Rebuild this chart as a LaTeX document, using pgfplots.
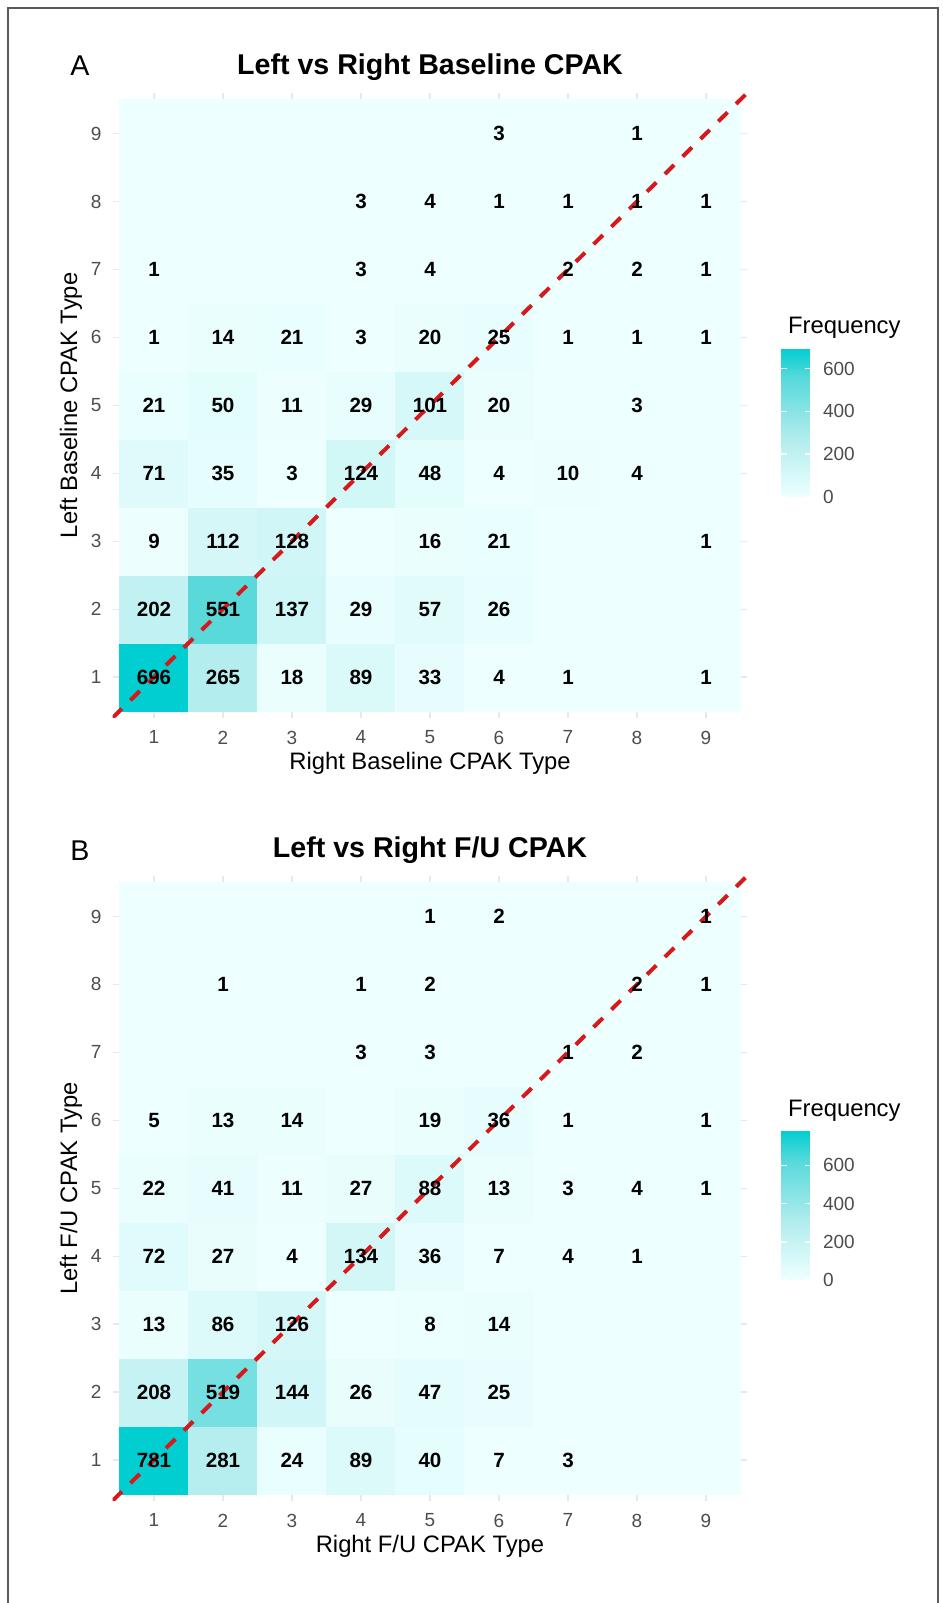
\documentclass[border=0pt]{standalone}
\usepackage{fontspec}
\setmainfont{Liberation Sans}
\usepackage{pgfplots}
\usepackage{pgfplotstable}
\pgfplotsset{compat=1.18}
\definecolor{tickgray}{RGB}{77,77,77}
\definecolor{gridgray}{RGB}{232,232,232}
\definecolor{dashred}{RGB}{215,25,28}
\definecolor{framegray}{RGB}{90,90,90}

\pgfplotstableread{
x y c
1 1 696
2 1 265
3 1 18
4 1 89
5 1 33
6 1 4
7 1 1
8 1 0
9 1 1
1 2 202
2 2 551
3 2 137
4 2 29
5 2 57
6 2 26
7 2 0
8 2 0
9 2 0
1 3 9
2 3 112
3 3 128
4 3 0
5 3 16
6 3 21
7 3 0
8 3 0
9 3 1
1 4 71
2 4 35
3 4 3
4 4 124
5 4 48
6 4 4
7 4 10
8 4 4
9 4 0
1 5 21
2 5 50
3 5 11
4 5 29
5 5 101
6 5 20
7 5 0
8 5 3
9 5 0
1 6 1
2 6 14
3 6 21
4 6 3
5 6 20
6 6 25
7 6 1
8 6 1
9 6 1
1 7 1
2 7 0
3 7 0
4 7 3
5 7 4
6 7 0
7 7 2
8 7 2
9 7 1
1 8 0
2 8 0
3 8 0
4 8 3
5 8 4
6 8 1
7 8 1
8 8 1
9 8 1
1 9 0
2 9 0
3 9 0
4 9 0
5 9 0
6 9 3
7 9 0
8 9 1
9 9 0
}\basedata

\pgfplotstableread{
x y c
1 1 781
2 1 281
3 1 24
4 1 89
5 1 40
6 1 7
7 1 3
8 1 0
9 1 0
1 2 208
2 2 519
3 2 144
4 2 26
5 2 47
6 2 25
7 2 0
8 2 0
9 2 0
1 3 13
2 3 86
3 3 126
4 3 0
5 3 8
6 3 14
7 3 0
8 3 0
9 3 0
1 4 72
2 4 27
3 4 4
4 4 134
5 4 36
6 4 7
7 4 4
8 4 1
9 4 0
1 5 22
2 5 41
3 5 11
4 5 27
5 5 88
6 5 13
7 5 3
8 5 4
9 5 1
1 6 5
2 6 13
3 6 14
4 6 0
5 6 19
6 6 36
7 6 1
8 6 0
9 6 1
1 7 0
2 7 0
3 7 0
4 7 3
5 7 3
6 7 0
7 7 1
8 7 2
9 7 0
1 8 0
2 8 1
3 8 0
4 8 1
5 8 2
6 8 0
7 8 0
8 8 2
9 8 1
1 9 0
2 9 0
3 9 0
4 9 0
5 9 1
6 9 2
7 9 0
8 9 0
9 9 1
}\fudata

\pgfplotsset{
  heatax/.style={
    scale only axis, width=317.4pt, height=312.5pt, anchor=south west,
    xmin=0.4, xmax=9.6, ymin=0.4, ymax=9.6,
    xtick={1,...,9}, ytick={1,...,9},
    axis line style={draw=none}, tick style={draw=none},
    grid=major, major grid style={gridgray, line width=0.6pt},
    ticklabel style={font=\fontsize{9.5}{11}\selectfont, text=tickgray},
    /pgf/number format/assume math mode=true,
    xticklabel style={yshift=-3pt},
    yticklabel style={xshift=-2pt},
    xlabel style={at={(axis description cs:0.5,0)}, anchor=center, yshift=-22.6pt, font=\fontsize{11.9}{14}\selectfont},
    ylabel style={at={(axis description cs:-0.0655,0.5)}, anchor=center, font=\fontsize{11.9}{14}\selectfont},
    title style={at={(axis description cs:0.5,1)}, anchor=center, yshift=7pt, font=\bfseries\fontsize{14.3}{17}\selectfont},
    colormap={tq}{rgb255(0cm)=(238,255,255) rgb255(4cm)=(176,236,237) rgb255(8cm)=(88,217,219) rgb255(10cm)=(0,206,209)},
    colorbar,
    colorbar style={
      scale only axis,
      at={(parent axis.south east)}, anchor=south west, xshift=8.3pt, yshift=110.4pt,
      width=15pt, height=74.5pt,
      ytick={0,200,400,600},
      axis line style={draw=none},
      ytick pos=both,
      yticklabel pos=right,
      ytick style={draw=white, line width=0.8pt},
      major tick length=3pt,
      tick align=inside,
      /pgf/number format/assume math mode=true,
      yticklabel style={font=\fontsize{9.5}{11}\selectfont, text=tickgray, xshift=2.5pt},
      title=Frequency,
      title style={at={(0,1)}, anchor=base west, yshift=1pt, font=\mdseries\fontsize{11.9}{14}\selectfont},
    },
  },
  celllab/.style={only marks, mark=none, point meta=explicit symbolic,
    nodes near coords, nodes near coords align=center,
    every node near coord/.append style={anchor=center, font=\bfseries\fontsize{10.3}{12}\selectfont, text=black}},
  diagline/.style={dashred, line width=2pt, dash pattern=on 6.5pt off 6pt, mark=none, point meta=none},
}

\begin{document}
\begin{tikzpicture}
\path[use as bounding box] (0,0) rectangle (471.5pt,801.5pt);
\draw[framegray, line width=1pt] (4pt,0pt) -- (4pt,797.5pt) -- (469pt,797.5pt) -- (469pt,0pt);

\node[font=\fontsize{14.3}{17}\selectfont] at (40pt,768.5pt) {A};
\node[font=\fontsize{14.3}{17}\selectfont] at (40pt,376pt) {B};

\begin{axis}[heatax, at={(56.3pt,442.6pt)},
  point meta min=0, point meta max=696,
  title={Left vs Right Baseline CPAK},
  xlabel={Right Baseline CPAK Type},
  ylabel={Left Baseline CPAK Type}]
\addplot[matrix plot*, mesh/cols=9, point meta=explicit] table[x=x, y=y, meta=c] {\basedata};
\addplot[celllab] coordinates {
(1,1)[696] (2,1)[265] (3,1)[18] (4,1)[89] (5,1)[33] (6,1)[4] (7,1)[1] (9,1)[1]
(1,2)[202] (2,2)[551] (3,2)[137] (4,2)[29] (5,2)[57] (6,2)[26]
(1,3)[9] (2,3)[112] (3,3)[128] (5,3)[16] (6,3)[21] (9,3)[1]
(1,4)[71] (2,4)[35] (3,4)[3] (4,4)[124] (5,4)[48] (6,4)[4] (7,4)[10] (8,4)[4]
(1,5)[21] (2,5)[50] (3,5)[11] (4,5)[29] (5,5)[101] (6,5)[20] (8,5)[3]
(1,6)[1] (2,6)[14] (3,6)[21] (4,6)[3] (5,6)[20] (6,6)[25] (7,6)[1] (8,6)[1] (9,6)[1]
(1,7)[1] (4,7)[3] (5,7)[4] (7,7)[2] (8,7)[2] (9,7)[1]
(4,8)[3] (5,8)[4] (6,8)[1] (7,8)[1] (8,8)[1] (9,8)[1]
(6,9)[3] (8,9)[1]
};
\addplot[diagline] coordinates {(0.4,0.4) (9.6,9.6)};
\end{axis}

\begin{axis}[heatax, at={(56.3pt,51.15pt)},
  point meta min=0, point meta max=781,
  title={Left vs Right F/U CPAK},
  xlabel={Right F/U CPAK Type},
  ylabel={Left F/U CPAK Type}]
\addplot[matrix plot*, mesh/cols=9, point meta=explicit] table[x=x, y=y, meta=c] {\fudata};
\addplot[celllab] coordinates {
(1,1)[781] (2,1)[281] (3,1)[24] (4,1)[89] (5,1)[40] (6,1)[7] (7,1)[3]
(1,2)[208] (2,2)[519] (3,2)[144] (4,2)[26] (5,2)[47] (6,2)[25]
(1,3)[13] (2,3)[86] (3,3)[126] (5,3)[8] (6,3)[14]
(1,4)[72] (2,4)[27] (3,4)[4] (4,4)[134] (5,4)[36] (6,4)[7] (7,4)[4] (8,4)[1]
(1,5)[22] (2,5)[41] (3,5)[11] (4,5)[27] (5,5)[88] (6,5)[13] (7,5)[3] (8,5)[4] (9,5)[1]
(1,6)[5] (2,6)[13] (3,6)[14] (5,6)[19] (6,6)[36] (7,6)[1] (9,6)[1]
(4,7)[3] (5,7)[3] (7,7)[1] (8,7)[2]
(2,8)[1] (4,8)[1] (5,8)[2] (8,8)[2] (9,8)[1]
(5,9)[1] (6,9)[2] (9,9)[1]
};
\addplot[diagline] coordinates {(0.4,0.4) (9.6,9.6)};
\end{axis}
\end{tikzpicture}
\end{document}
